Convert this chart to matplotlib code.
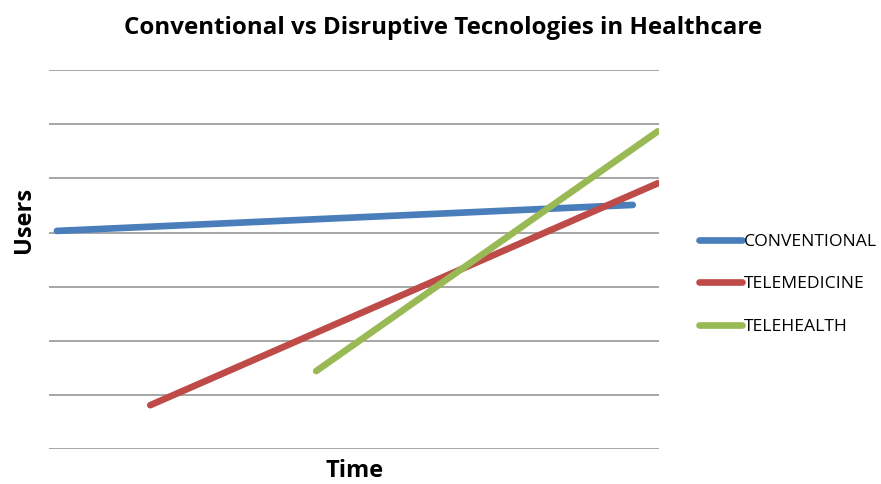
import matplotlib.pyplot as plt

# data (arbitrary units, no tick labels in the original)
series = ["CONVENTIONAL", "TELEMEDICINE", "TELEHEALTH"]
colors = ["#4A7EBB", "#BE4B48", "#98B954"]
conv_x = [0.13, 9.57]
conv_y = [4.03, 4.51]
tmed_x = [1.66, 9.98]
tmed_y = [0.81, 4.91]
thealth_x = [4.38, 9.98]
thealth_y = [1.44, 5.87]

plt.rcParams['font.family'] = ['Open Sans', 'DejaVu Sans']

fig = plt.figure(figsize=(8.81, 4.84), dpi=100)
ax = fig.add_axes([0.0556, 0.0723, 0.6924, 0.7827])

lines = []
for xs, ys, c, name in zip([conv_x, tmed_x, thealth_x], [conv_y, tmed_y, thealth_y], colors, series):
    ln, = ax.plot(xs, ys, color=c, lw=4.8, solid_capstyle='round', label=name, zorder=3)
    lines.append(ln)

ax.set_xlim(0, 10)
ax.set_ylim(0, 7)
ax.set_yticks(range(8))
ax.set_xticks([])
ax.tick_params(left=False, labelleft=False)
ax.yaxis.grid(True, color="#A6A6A6", lw=1.4)
for s in ax.spines.values():
    s.set_visible(False)

fig.text(0.503, 0.942, "Conventional vs Disruptive Tecnologies in Healthcare",
         ha='center', va='center', fontsize=17.4, fontweight='bold')
fig.text(0.027, 0.545, "Users", ha='center', va='center', rotation=90,
         fontsize=17, fontweight='bold')
fig.text(0.402, 0.027, "Time", ha='center', va='center', fontsize=17, fontweight='bold')

leg = fig.legend(handles=lines, loc='upper left', bbox_to_anchor=(0.785, 0.532),
                 frameon=False, fontsize=12.6, handlelength=2.5, handletextpad=0.1,
                 labelspacing=1.5, borderaxespad=0)

fig.savefig("out.png", dpi=100)
